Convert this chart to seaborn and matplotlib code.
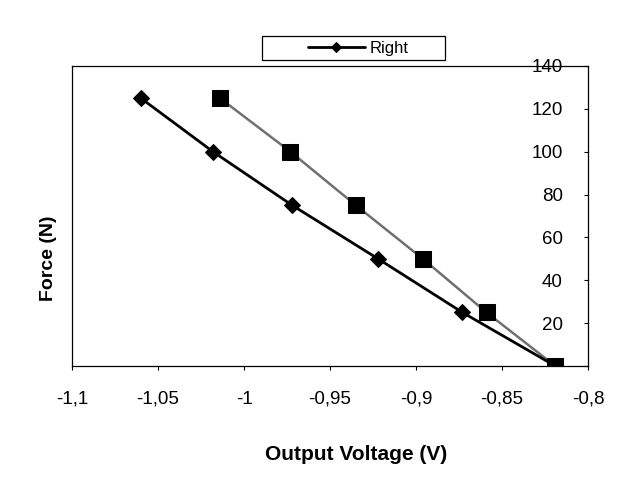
import matplotlib
matplotlib.use("Agg")
import matplotlib.pyplot as plt
import seaborn as sns
from matplotlib.legend_handler import HandlerLine2D

# data
force = [125, 100, 75, 50, 25, 0]
voltage_right = [-1.060, -1.018, -0.972, -0.922, -0.873, -0.819]
voltage_square = [-1.014, -0.973, -0.935, -0.896, -0.859, -0.819]

x_ticks = [-1.1, -1.05, -1.0, -0.95, -0.9, -0.85, -0.8]
x_tick_labels = ["-1,1", "-1,05", "-1", "-0,95", "-0,9", "-0,85", "-0,8"]
y_ticks = [0, 20, 40, 60, 80, 100, 120, 140]
y_tick_labels = ["", "20", "40", "60", "80", "100", "120", "140"]

sns.set_style("white")
plt.rcParams["font.family"] = ["Liberation Sans", "DejaVu Sans"]
plt.rcParams["text.color"] = "black"
plt.rcParams["axes.labelcolor"] = "black"

fig = plt.figure(figsize=(6.42, 4.91), dpi=100)
ax = fig.add_axes([72 / 642, 1 - 366 / 491, 516 / 642, 300 / 491])

# square series (gray line)
sns.lineplot(x=voltage_square, y=force, ax=ax, color="#707070", linewidth=1.8,
             marker="s", markersize=11, markerfacecolor="black",
             markeredgecolor="black", legend=False, zorder=3)
# diamond series "Right"
sns.lineplot(x=voltage_right, y=force, ax=ax, color="black", linewidth=2,
             marker="D", markersize=8, markerfacecolor="black",
             markeredgecolor="black", label="Right", zorder=4)

ax.set_xlim(-1.1, -0.8)
ax.set_ylim(0, 140)
ax.set_xticks(x_ticks, x_tick_labels)
ax.set_yticks(y_ticks, y_tick_labels)

# y axis sits at x = -0,8 with its labels inside the box
ax.spines["left"].set_position(("data", -0.8))
ax.spines["right"].set_position(("data", -1.1))
for s in ax.spines.values():
    s.set_color("black")
    s.set_linewidth(0.9)

ax.tick_params(axis="x", bottom=True, direction="out", length=3, width=0.8,
               pad=15, labelsize=13.5, colors="black")
ax.tick_params(axis="y", left=True, right=False, direction="out", length=3,
               width=0.8, pad=15, labelsize=13.5, colors="black")

ax.set_xlabel("Output Voltage (V)", fontsize=15, fontweight="bold")
ax.xaxis.set_label_coords(0.55, -0.265)
ax.set_ylabel("Force (N)", fontsize=14, fontweight="bold")
ax.yaxis.set_label_coords(-0.03, 0.36)

handles, labels = ax.get_legend_handles_labels()
leg = ax.legend(handles, labels, loc="center", mode="expand",
                bbox_to_anchor=(262 / 642, 1 - 61 / 491, 183 / 642, 26 / 491),
                bbox_transform=fig.transFigure, borderaxespad=0,
                borderpad=0.25, handlelength=5.93, handletextpad=0.3,
                markerscale=0.65, fontsize=12, fancybox=False, framealpha=1,
                edgecolor="black",
                handler_map={handles[0]: HandlerLine2D(xpad=2.5)})
leg.get_frame().set_linewidth(0.9)

fig.savefig("out.png", dpi=100)
